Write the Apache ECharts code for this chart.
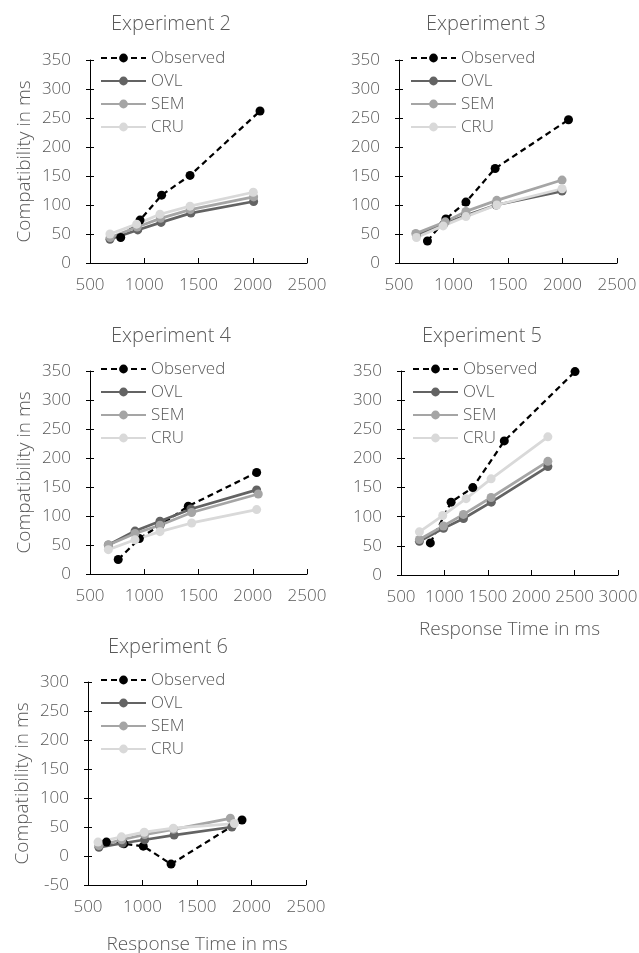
<!DOCTYPE html>
<html>
<head>
<meta charset="utf-8">
<script src="https://cdn.jsdelivr.net/npm/echarts@6/dist/echarts.min.js"></script>
<style>
  html, body { margin: 0; padding: 0; background: #fff; }
  #chart { width: 639px; height: 953px; }
</style>
</head>
<body>
<div id="chart"></div>
<script>
// Compatibility effect (ms) against mean response time (ms): observed vs. three models
const seriesNames = ['Observed', 'OVL', 'SEM', 'CRU'];
const panelTitles = ['Experiment 2', 'Experiment 3', 'Experiment 4', 'Experiment 5', 'Experiment 6'];

const exp2Observed = [[783, 44], [961, 74], [1160, 117], [1422, 151], [2067, 262]];
const exp2OVL      = [[684, 41], [940, 57], [1155, 70], [1430, 86], [2008, 106]];
const exp2SEM      = [[686, 44], [935, 62], [1150, 77], [1425, 92], [2008, 114]];
const exp2CRU      = [[684, 50], [930, 67], [1145, 84], [1422, 98], [2005, 122]];

const exp3Observed = [[761, 38], [930, 76], [1114, 105], [1382, 163], [2055, 247]];
const exp3OVL      = [[660, 47], [910, 67], [1112, 82], [1392, 100], [1996, 124]];
const exp3SEM      = [[654, 51], [925, 71], [1114, 89], [1397, 108], [1996, 143]];
const exp3CRU      = [[660, 44], [905, 64], [1114, 80], [1397, 100], [1996, 128]];

const exp4Observed = [[760, 25], [955, 61], [1145, 84], [1406, 117], [2036, 175]];
const exp4OVL      = [[669, 50], [915, 74], [1145, 91], [1430, 112], [2036, 145]];
const exp4SEM      = [[669, 50], [915, 70], [1145, 84], [1437, 106], [2051, 138]];
const exp4CRU      = [[669, 42], [915, 59], [1145, 73], [1437, 88], [2036, 111]];

const exp5Observed = [[838, 55], [1077, 125], [1327, 150], [1690, 230], [2505, 349]];
const exp5OVL      = [[712, 58], [990, 80], [1220, 97], [1540, 125], [2192, 186]];
const exp5SEM      = [[712, 61], [988, 84], [1219, 104], [1538, 133], [2192, 195]];
const exp5CRU      = [[712, 74], [981, 102], [1250, 131], [1538, 165], [2192, 237]];

const exp6Observed = [[669, 24], [830, 21], [1007, 17], [1262, -14], [1913, 62]];
const exp6OVL      = [[600, 15], [815, 22], [1020, 28], [1290, 36], [1820, 50]];
const exp6SEM      = [[600, 18], [810, 28], [1020, 37], [1285, 46], [1806, 65]];
const exp6CRU      = [[592, 24], [807, 33], [1016, 41], [1283, 48], [1843, 56]];

// axis ranges per panel: [xMin, xMax, xStep, yMin, yMax, yStep]
const axisRanges = [
  [500, 2500, 500, 0, 350, 50],
  [500, 2500, 500, 0, 350, 50],
  [500, 2500, 500, 0, 350, 50],
  [500, 3000, 500, 0, 350, 50],
  [500, 2500, 500, -50, 300, 50]
];

const panelData = [
  [exp2Observed, exp2OVL, exp2SEM, exp2CRU],
  [exp3Observed, exp3OVL, exp3SEM, exp3CRU],
  [exp4Observed, exp4OVL, exp4SEM, exp4CRU],
  [exp5Observed, exp5OVL, exp5SEM, exp5CRU],
  [exp6Observed, exp6OVL, exp6SEM, exp6CRU]
];

const FONT = '"Open Sans", "Liberation Sans", sans-serif';
const TEXT = '#595959';
const WEIGHT = 300;
const lineColors = ['#000000', '#636363', '#a5a5a5', '#d9d9d9'];
const plain = v => String(v);

// layout of the five plot areas
const boxes = [
  { left: 90,  top: 60,  width: 217, height: 203, titleX: 166, titleY: 9,   legendX: 100, yName: true,  xName: false },
  { left: 399, top: 60,  width: 218, height: 203, titleX: 481, titleY: 9,   legendX: 410, yName: false, xName: false },
  { left: 90,  top: 371, width: 217, height: 203, titleX: 166, titleY: 321, legendX: 100, yName: true,  xName: false },
  { left: 401, top: 371, width: 217, height: 204, titleX: 477, titleY: 321, legendX: 412, yName: false, xName: true },
  { left: 88,  top: 682, width: 218, height: 203, titleX: 163, titleY: 632, legendX: 100, yName: true,  xName: true }
];

const grid = [], xAxis = [], yAxis = [], series = [], title = [], legend = [];

boxes.forEach((b, i) => {
  const r = axisRanges[i];
  grid.push({ left: b.left, top: b.top, width: b.width, height: b.height, containLabel: false, outerBoundsMode: 'none' });
  title.push({
    text: panelTitles[i], left: b.titleX, top: b.titleY, textAlign: 'center',
    textStyle: { fontFamily: FONT, fontSize: 20, fontWeight: WEIGHT, color: TEXT }
  });
  legend.push({
    data: seriesNames, orient: 'vertical', left: b.legendX, top: b.top - 12,
    itemWidth: 45, itemHeight: 11, itemGap: 3, padding: 0,
    textStyle: { fontFamily: FONT, fontSize: 17, fontWeight: WEIGHT, color: TEXT, lineHeight: 20 },
    selectedMode: false
  });
  xAxis.push({
    type: 'value', gridIndex: i, min: r[0], max: r[1], interval: r[2],
    name: b.xName ? 'Response Time in ms' : '', nameLocation: 'middle', nameGap: b.xName ? (i === 4 ? 50 : 45) : 0,
    nameTextStyle: { fontFamily: FONT, fontSize: 19, fontWeight: WEIGHT, color: TEXT },
    axisLine: { show: true, onZero: false, lineStyle: { color: '#000', width: 1 } },
    axisTick: { show: true, inside: true, length: 5, lineStyle: { color: '#000' } },
    axisLabel: { fontFamily: FONT, fontSize: 17, fontWeight: WEIGHT, color: TEXT, margin: 14, formatter: plain, showMaxLabel: true, showMinLabel: true },
    splitLine: { show: false }
  });
  // main y axis with outward ticks and labels
  yAxis.push({
    type: 'value', gridIndex: i, min: r[3], max: r[4], interval: r[5],
    name: b.yName ? 'Compatibility in ms' : '', nameLocation: 'middle', nameGap: 56, nameRotate: 90,
    nameTextStyle: { fontFamily: FONT, fontSize: 19, fontWeight: WEIGHT, color: TEXT },
    axisLine: { show: true, onZero: false, lineStyle: { color: '#000', width: 1 } },
    axisTick: { show: true, inside: false, length: 4, lineStyle: { color: '#000' } },
    axisLabel: { fontFamily: FONT, fontSize: 17, fontWeight: WEIGHT, color: TEXT, margin: 19, formatter: plain },
    splitLine: { show: false }
  });
  // companion y axis drawing the inward half of the crossing ticks
  yAxis.push({
    type: 'value', gridIndex: i, min: r[3], max: r[4], interval: r[5], position: 'left',
    axisLine: { show: false },
    axisTick: { show: true, inside: true, length: 4, lineStyle: { color: '#000' } },
    axisLabel: { show: false },
    splitLine: { show: false }
  });
  panelData[i].forEach((pts, k) => {
    series.push({
      name: seriesNames[k], type: 'line', xAxisIndex: i, yAxisIndex: i * 2,
      data: pts, symbol: 'circle', symbolSize: 9, showSymbol: true,
      lineStyle: { color: lineColors[k], width: k === 0 ? 2.25 : 2.75, type: k === 0 ? [6, 4] : 'solid' },
      itemStyle: { color: lineColors[k] },
      emphasis: { disabled: true },
      animation: false
    });
  });
});

const chart = echarts.init(document.getElementById('chart'), null, { renderer: 'canvas' });
chart.setOption({
  backgroundColor: '#ffffff',
  animation: false,
  title, legend, grid, xAxis, yAxis, series
});
</script>
</body>
</html>
